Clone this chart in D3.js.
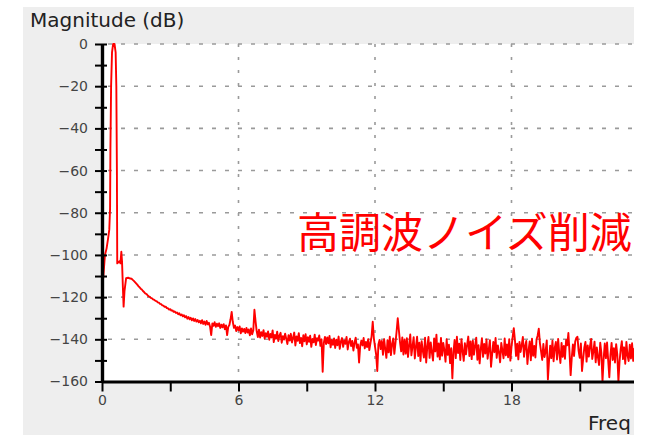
<!DOCTYPE html>
<html>
<head>
<meta charset="utf-8">
<script src="https://cdn.jsdelivr.net/npm/d3@7/dist/d3.min.js"></script>
<style>
  html, body { margin: 0; padding: 0; background: #ffffff; }
  svg { display: block; }
</style>
</head>
<body>
<svg id="chart" width="654" height="435"></svg>
<script>
// Main carrier peak and its immediate skirt (frequency, magnitude in dB)
const peakFreq = [0, 0.06, 0.13, 0.2, 0.27, 0.32, 0.355, 0.37, 0.40, 0.44, 0.49, 0.55, 0.60, 0.63, 0.655, 0.67,
                  0.72, 0.77, 0.81, 0.85, 0.88, 0.92, 0.95, 0.99, 1.06, 1.15, 1.24];
const peakDb   = [-117.5, -110, -100, -97, -92, -88, -78, -50, -20, -4, 0, 0, -4, -20, -60, -104,
                  -103.5, -103, -104, -98.5, -103, -116, -124.5, -117, -111, -110.8, -111.2];

// Residual noise floor after the carrier, sampled every 0.05 from 1.3 (one row per unit)
const floorStart = 1.3;
const floorStep = 0.05;
const floorDb = [
  -111.3,-111.8,-112.3,-112.9,-113.5,-114.1,-114.8,-115.3,-116.0,-116.4,-117.1,-117.6,-118.2,-118.5,-119.1,-119.6,-119.9,-120.4,-120.6,-121.1,
  -121.3,-121.8,-121.9,-122.5,-122.6,-123.2,-123.3,-123.9,-124.0,-124.6,-124.5,-125.2,-125.3,-125.9,-125.7,-126.4,-126.3,-127.0,-126.8,-127.5,
  -127.3,-128.1,-127.7,-128.6,-128.2,-129.1,-128.6,-129.6,-129.0,-130.2,-129.4,-130.5,-129.8,-131.0,-130.1,-131.3,-130.4,-131.6,-130.8,-131.9,
  -131.2,-132.4,-130.9,-132.7,-131.6,-133.1,-131.3,-132.9,-132.2,-134.0,-138.0,-132.5,-133.6,-131.9,-134.1,-132.6,-133.8,-132.4,-134.6,-133.1,
  -134.3,-132.8,-135.2,-133.4,-138.0,-134.1,-133.2,-130.5,-127.0,-131.8,-134.6,-133.5,-136.1,-134.2,-135.7,-133.9,-137.2,-134.8,-136.4,-135.1,
  -137.0,-134.6,-136.8,-135.3,-138.1,-134.9,-137.6,-135.8,-126.0,-131.5,-136.2,-138.9,-135.4,-139.2,-136.6,-138.4,-135.7,-139.6,-137.1,-138.8,
  -136.3,-140.2,-137.5,-139.1,-135.8,-141.3,-137.9,-139.7,-136.4,-140.8,-138.2,-136.9,-141.6,-138.5,-140.1,-137.3,-139.8,-142.2,-138.0,-140.6,
  -137.4,-141.5,-139.2,-136.8,-142.9,-138.6,-140.7,-137.1,-141.8,-139.4,-143.3,-138.1,-140.9,-137.6,-142.4,-139.0,-141.2,-138.3,-143.6,-139.8,
  -141.4,-137.8,-142.7,-139.5,-140.6,-138.2,-143.1,-140.0,-155.4,-141.7,-138.9,-142.3,-139.1,-141.9,-138.4,-143.8,-140.3,-142.6,-139.6,-144.1,
  -140.2,-142.8,-138.7,-144.5,-141.1,-139.4,-143.6,-140.5,-142.1,-138.9,-144.8,-141.3,-139.7,-143.2,-140.8,-145.3,-141.6,-139.2,-144.0,-142.4,
  -151.0,-143.1,-140.6,-142.9,-139.4,-144.3,-141.2,-143.7,-139.9,-145.1,-141.8,-138.6,-131.7,-139.5,-143.5,-147.2,-155.0,-142.4,-140.3,-144.6,
  -140.8,-147.3,-139.9,-144.6,-148.8,-140.4,-146.2,-138.8,-147.5,-142.3,-139.6,-146.9,-141.7,-136.2,-130.0,-135.8,-141.4,-145.7,-139.1,-147.2,
  -140.1,-146.8,-139.5,-148.4,-142.9,-137.7,-147.6,-143.2,-139.0,-149.1,-143.5,-138.8,-147.9,-141.6,-150.3,-140.9,-145.4,-148.7,-139.2,-151.0,
  -143.4,-138.9,-148.8,-141.5,-146.2,-150.1,-139.6,-145.7,-137.8,-148.2,-142.0,-149.5,-139.3,-147.8,-141.7,-145.1,-150.6,-140.0,-147.4,-142.6,
  -151.3,-144.2,-158.5,-146.0,-140.3,-148.9,-138.8,-146.5,-142.1,-149.8,-139.9,-145.6,-150.2,-141.8,-147.1,-142.5,-138.7,-147.9,-141.0,-149.4,
  -140.6,-147.3,-143.0,-139.2,-149.7,-142.8,-151.4,-144.5,-139.5,-148.3,-142.2,-146.7,-140.1,-149.2,-144.9,-140.4,-153.0,-147.0,-141.3,-146.1,
  -139.4,-148.8,-142.9,-146.2,-150.9,-141.7,-145.3,-149.0,-139.6,-147.6,-142.4,-148.5,-140.0,-150.1,-143.6,-139.0,-134.7,-140.2,-147.9,-142.1,
  -149.5,-141.2,-146.0,-142.6,-138.9,-148.3,-143.1,-140.8,-151.7,-145.3,-141.0,-149.9,-139.7,-147.8,-143.2,-148.6,-140.1,-138.2,-135.0,-141.9,
  -145.7,-149.8,-142.2,-148.4,-145.6,-140.5,-159.0,-150.1,-143.0,-148.9,-140.6,-150.4,-144.1,-141.3,-149.6,-139.8,-146.5,-151.2,-141.7,-148.3,
  -143.1,-149.2,-140.3,-142.8,-137.0,-146.2,-157.0,-148.6,-142.4,-147.9,-141.1,-139.3,-138.8,-145.5,-148.8,-142.0,-155.0,-149.3,-144.0,-141.2,
  -150.6,-142.9,-148.2,-143.4,-139.8,-149.3,-145.7,-141.1,-150.9,-143.8,-148.5,-152.2,-141.6,-146.4,-160.0,-149.2,-142.0,-148.9,-141.5,-150.0,
  -158.0,-147.4,-141.7,-149.8,-144.2,-151.0,-142.3,-147.1,-160.0,-150.5,-144.6,-140.9,-149.4,-143.8,-151.6,-141.2,-147.7,-150.3,-142.5,-149.1,
  -141.9,-150.2,-144.4,-148.6,-142.8,-149.0,-144.9,-147.3
];

// Axis ticks
const yTicks = [-160, -150, -140, -130, -120, -110, -100, -90, -80, -70, -60, -50, -40, -30, -20, -10, 0];
const yGrid = [-140, -120, -100, -80, -60, -40, -20, 0];
const xTicks = [0, 3, 6, 9, 12, 15, 18, 21];
const xGrid = [6, 12, 18];

const yTitle = "Magnitude (dB)";
const xTitle = "Freq";
const note = "高調波ノイズ削減";

const W = 654, H = 435;
const panel = { left: 23, top: 7, right: 634 };
const plot = { left: 102, top: 44, right: 648, bottom: 381.5 };

const x = d3.scaleLinear().domain([0, 24]).range([plot.left, plot.right]);
const y = d3.scaleLinear().domain([-160, 0]).range([plot.bottom, plot.top]);

const svg = d3.select("#chart");
const defs = svg.append("defs");
defs.append("clipPath").attr("id", "frame")
  .append("rect").attr("x", 0).attr("y", 0).attr("width", panel.right).attr("height", H);
defs.append("clipPath").attr("id", "plotArea")
  .append("rect").attr("x", plot.left).attr("y", plot.top - 3)
  .attr("width", plot.right - plot.left).attr("height", plot.bottom - plot.top + 3);

const root = svg.append("g").attr("clip-path", "url(#frame)");

// Panel background
root.append("rect")
  .attr("x", panel.left).attr("y", panel.top)
  .attr("width", panel.right - panel.left).attr("height", H - panel.top)
  .attr("fill", "#eeeeee");

// Plot area
root.append("rect")
  .attr("x", plot.left).attr("y", plot.top)
  .attr("width", plot.right - plot.left).attr("height", plot.bottom - plot.top)
  .attr("fill", "#ffffff");

// Grid
const grid = root.append("g").attr("stroke", "#9a9a9a").attr("stroke-width", 1.6);
grid.selectAll("line.h").data(yGrid).join("line")
  .attr("class", "h")
  .attr("x1", plot.left + 2).attr("x2", plot.right)
  .attr("y1", d => y(d)).attr("y2", d => y(d))
  .attr("stroke-dasharray", "4,9").attr("stroke-dashoffset", -4);
grid.selectAll("line.v").data(xGrid).join("line")
  .attr("class", "v")
  .attr("x1", d => x(d)).attr("x2", d => x(d))
  .attr("y1", plot.top).attr("y2", plot.bottom)
  .attr("stroke-dasharray", "3,10");

// Spectrum trace
const points = peakFreq.map((f, i) => [f, peakDb[i]])
  .concat(floorDb.map((v, i) => [floorStart + i * floorStep, v]));

const line = d3.line().x(d => x(d[0])).y(d => y(d[1]));
root.append("g").attr("clip-path", "url(#plotArea)")
  .append("path")
  .datum(points)
  .attr("d", line)
  .attr("fill", "none")
  .attr("stroke", "#ff0000")
  .attr("stroke-width", 1.9)
  .attr("stroke-linejoin", "round");

// Y axis: ticks crossing the axis line, labels every 20 dB
const fmt = d3.format("d");
const yAxisL = d3.axisLeft(y).tickValues(yTicks).tickSize(7).tickSizeOuter(0).tickPadding(7)
  .tickFormat(d => (d % 20 === 0 ? fmt(d) : ""));
const yAxisR = d3.axisRight(y).tickValues(yTicks).tickSize(5).tickSizeOuter(0).tickFormat("");

const gyL = root.append("g").attr("transform", `translate(${plot.left},0)`).call(yAxisL);
const gyR = root.append("g").attr("transform", `translate(${plot.left},0)`).call(yAxisR);
[gyL, gyR].forEach(g => {
  g.select(".domain").attr("stroke", "#000").attr("stroke-width", 3.2);
  g.selectAll(".tick line").attr("stroke", "#000").attr("stroke-width", 2);
});
gyL.selectAll(".tick text")
  .attr("fill", "#444")
  .style("font-family", "'DejaVu Sans', sans-serif")
  .style("font-size", "14px");

// X axis
const xAxis = d3.axisBottom(x).tickValues(xTicks).tickSize(10).tickSizeOuter(0).tickPadding(4)
  .tickFormat(d => (d % 6 === 0 ? fmt(d) : ""));
const gx = root.append("g").attr("transform", `translate(0,${plot.bottom})`).call(xAxis);
gx.select(".domain").attr("stroke", "#000").attr("stroke-width", 3.2);
gx.selectAll(".tick line").attr("stroke", "#000").attr("stroke-width", 2);
gx.selectAll(".tick text")
  .attr("fill", "#444")
  .style("font-family", "'DejaVu Sans', sans-serif")
  .style("font-size", "14px");

// Axis titles
root.append("text")
  .attr("x", 30).attr("y", 26.5)
  .attr("fill", "#222")
  .style("font-family", "'DejaVu Sans', sans-serif")
  .style("font-size", "20px")
  .text(yTitle);

root.append("text")
  .attr("x", 588).attr("y", 430)
  .attr("fill", "#222")
  .style("font-family", "'DejaVu Sans', sans-serif")
  .style("font-size", "20px")
  .text(xTitle);

// Annotation
root.append("text")
  .attr("x", 297).attr("y", 248)
  .attr("fill", "#ff0000")
  .style("font-family", "'Noto Sans CJK JP', sans-serif")
  .style("font-size", "42px")
  .text(note);
</script>
</body>
</html>
